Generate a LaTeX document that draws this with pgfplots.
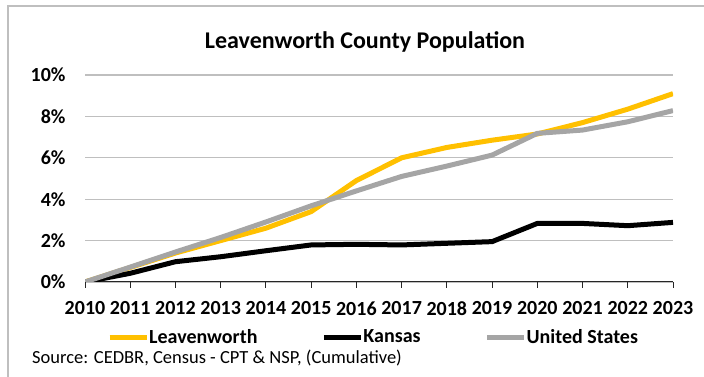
\documentclass[border=0pt]{standalone}
\usepackage{pgfplots}
\pgfplotsset{compat=1.18}
\usepackage{fontspec}
\setmainfont{Carlito}
\definecolor{lyellow}{HTML}{FFC000}
\definecolor{lgray}{HTML}{A5A5A5}
\definecolor{gridgray}{HTML}{BFBFBF}
\begin{document}
\begin{tikzpicture}[x=1pt,y=1pt]
\useasboundingbox (0,0) rectangle (704,377);
\draw[gridgray, line width=1.5pt] (8,-5) -- (8,371) -- (720,371);
\begin{axis}[
  at={(85pt,95pt)}, anchor=south west,
  scale only axis, width=588pt, height=207pt,
  xmin=2010, xmax=2023, ymin=0, ymax=10,
  axis x line*=bottom, axis y line*=left,
  y axis line style={draw=none},
  x axis line style={black!85, line width=1pt},
  ymajorgrids, major grid style={gridgray, line width=1.3pt},
  ytick={0,2,4,6,8,10},
  yticklabels={0\%,2\%,4\%,6\%,8\%,10\%},
  ytick style={draw=none},
  xtick={2010,2011,...,2023},
  xticklabels={2010,2011,2012,2013,2014,2015,2016,2017,2018,2019,2020,2021,2022,2023},
  xtick style={black!85, line width=1pt},
  tick align=outside, major tick length=6pt,
  tick label style={font=\bfseries\fontsize{20}{20}\selectfont},
  xticklabel style={yshift=-10pt},
  yticklabel style={xshift=-10pt},
  legend columns=3,
  legend style={at={(axis description cs:0.0374,-0.266)}, anchor=west, draw=none, fill=none,
    font=\bfseries\fontsize{20}{20}\selectfont, inner sep=0pt,
    nodes={inner sep=0pt},
    /tikz/every even column/.append style={column sep=64pt}},
  legend image code/.code={\draw[#1, line width=5pt] (0pt,0pt) -- (37pt,0pt);},
  every axis plot/.append style={line width=5pt, line join=round, mark=none},
]
\addplot[lyellow] coordinates {(2010,0) (2011,0.7) (2012,1.4) (2013,2.0) (2014,2.6) (2015,3.4) (2016,4.9) (2017,6.0) (2018,6.5) (2019,6.85) (2020,7.15) (2021,7.7) (2022,8.35) (2023,9.1)};
\addlegendentry{Leavenworth}
\addplot[black] coordinates {(2010,0) (2011,0.42) (2012,0.98) (2013,1.22) (2014,1.51) (2015,1.79) (2016,1.82) (2017,1.79) (2018,1.87) (2019,1.95) (2020,2.83) (2021,2.83) (2022,2.72) (2023,2.88)};
\addlegendentry{Kansas}
\addplot[lgray] coordinates {(2010,0) (2011,0.72) (2012,1.45) (2013,2.15) (2014,2.9) (2015,3.68) (2016,4.4) (2017,5.1) (2018,5.6) (2019,6.13) (2020,7.18) (2021,7.34) (2022,7.74) (2023,8.28)};
\addlegendentry{United States}
\end{axis}
\node[font=\bfseries\fontsize{24}{24}\selectfont] at (365,335) {Leavenworth County Population};
\node[anchor=west, inner sep=0pt, font=\fontsize{18.5}{18.5}\selectfont] at (32,19) {Source: CEDBR, Census - CPT \& NSP, (Cumulative)};
\end{tikzpicture}
\end{document}
